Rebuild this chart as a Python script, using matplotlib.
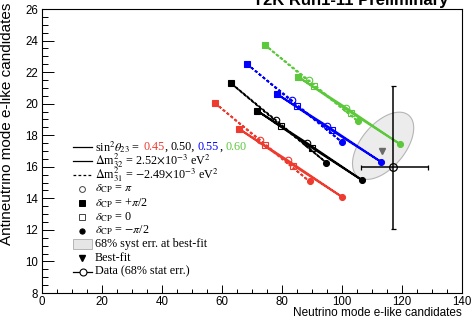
import numpy as np
import matplotlib
matplotlib.use('Agg')
import matplotlib.pyplot as plt
from matplotlib.lines import Line2D
from matplotlib.patches import Rectangle, Polygon

plt.rcParams['mathtext.fontset'] = 'stix'

# ---------------- data ----------------
sin2_values = ['0.45', '0.50', '0.55', '0.60']
sin2_colors = ['#ee3b2f', '#000000', '#0000ff', '#5cc83c']
# delta_CP order: -pi/2, 0, +pi/2, pi
delta_labels = ['-pi/2', '0', '+pi/2', 'pi']

# Normal ordering (dm32 = 2.52e-3), solid
no_nu = [[100.1, 83.8, 65.7, 82.0],
         [106.6, 90.1, 71.8, 88.3],
         [113.1, 96.6, 78.4, 94.9],
         [119.3, 103.1, 85.2, 101.4]]
no_nubar = [[14.08, 16.08, 18.40, 16.40],
            [15.16, 17.19, 19.54, 17.51],
            [16.30, 18.30, 20.60, 18.60],
            [17.44, 19.42, 21.72, 19.74]]
# Inverted ordering (dm31 = -2.49e-3), dashed
io_nu = [[89.2, 74.3, 57.7, 72.6],
         [94.7, 79.7, 63.0, 78.0],
         [100.0, 85.1, 68.4, 83.3],
         [105.2, 90.6, 74.3, 88.9]]
io_nubar = [[15.07, 17.38, 20.03, 17.72],
            [16.27, 18.61, 21.29, 18.95],
            [17.56, 19.85, 22.50, 20.21],
            [18.91, 21.13, 23.72, 21.49]]

best_fit = (113.2, 17.0)
data_point = (117.0, 16.0)
data_xerr = (10.8, 11.8)   # lower, upper
data_yerr = (3.95, 5.1)    # lower, upper
# 68% systematic contour at best fit
syst_center = (113.7, 17.33)
syst_sigma = (10.2, 2.13)
syst_rho = 0.53

# ---------------- figure ----------------
W, H = 473, 320
fig = plt.figure(figsize=(W / 100, H / 100), dpi=100)
ax = fig.add_axes([42 / W, 27 / H, 420 / W, 284 / H])
ax.set_xlim(0, 140)
ax.set_ylim(8, 26)

# systematic ellipse
t = np.linspace(0, 2 * np.pi, 300)
ex = syst_center[0] + syst_sigma[0] * np.cos(t)
ey = syst_center[1] + syst_sigma[1] * (syst_rho * np.cos(t) + np.sqrt(1 - syst_rho ** 2) * np.sin(t))
ax.add_patch(Polygon(np.column_stack([ex, ey]), closed=True, facecolor='#ececec',
                     edgecolor='#b5b5b5', lw=0.8, zorder=1))

loop = [2, 3, 0, 1, 2]
markers = [dict(marker='o', fill=True), dict(marker='s', fill=False),
           dict(marker='s', fill=True), dict(marker='o', fill=False)]


def draw_set(xs, ys, ls, dashes=None):
    for xi, yi, c in zip(xs, ys, sin2_colors):
        lx = [xi[k] for k in loop]
        ly = [yi[k] for k in loop]
        ln, = ax.plot(lx, ly, color=c, lw=1.4 if ls == '-' else 1.3, ls=ls, zorder=3)
        if dashes is not None:
            ln.set_dashes(dashes)
        for k, m in enumerate(markers):
            ax.plot([xi[k]], [yi[k]], marker=m['marker'], ms=4.3 if m['fill'] else 4.7,
                    mfc=c if m['fill'] else 'none', mec=c, mew=0.8, ls='none', zorder=4)


draw_set(io_nu, io_nubar, '--', dashes=(1.6, 1.2))
draw_set(no_nu, no_nubar, '-')

ax.plot([best_fit[0]], [best_fit[1]], marker='v', ms=4.5, color='#6a6a6a', ls='none', zorder=5)

ax.errorbar([data_point[0]], [data_point[1]],
            xerr=[[data_xerr[0]], [data_xerr[1]]], yerr=[[data_yerr[0]], [data_yerr[1]]],
            fmt='o', ms=5.5, mfc='none', mec='black', mew=0.9, ecolor='black',
            elinewidth=1.1, capsize=1.8, capthick=1.0, zorder=6)

# ticks
ax.set_xticks(np.arange(0, 141, 20))
ax.set_xticks(np.arange(0, 141, 5), minor=True)
ax.set_yticks(np.arange(8, 26.1, 2))
ax.set_yticks(np.arange(8, 26.1, 0.5), minor=True)
ax.tick_params(axis='x', which='major', direction='in', length=6, width=0.7, pad=2.5,
               labelsize=8.3, top=False)
ax.tick_params(axis='x', which='minor', direction='in', length=3, width=0.7, top=False)
ax.tick_params(axis='y', which='major', direction='in', length=8.5, width=0.7, pad=3,
               labelsize=8.3, right=False)
ax.tick_params(axis='y', which='minor', direction='in', length=4.3, width=0.7, right=False)
for lab in ax.get_xticklabels() + ax.get_yticklabels():
    lab.set_fontfamily('Liberation Sans')
for sp in ax.spines.values():
    sp.set_linewidth(0.8)

ax.set_xlabel('Neutrino mode e-like candidates', fontsize=8.5, fontfamily='Liberation Sans',
              loc='right')
ax.xaxis.set_label_coords(1.0, -0.05)
ax.xaxis.label.set_va('top')
ax.set_ylabel('Antineutrino mode e-like candidates', fontsize=11,
              fontfamily='Liberation Sans', loc='top')
ax.yaxis.set_label_coords(-0.066, 1.023)

fig.text(448 / W, 1 - 5.5 / H, 'T2K Run1-11 Preliminary', fontsize=12, fontweight='bold',
         fontfamily='Liberation Sans', ha='right', va='baseline')

# ---------------- legend ----------------
def fx(px):
    return px / W


def fy(py):
    return 1 - py / H


rows = [147, 161, 174.5, 189, 203, 217, 230.5, 244, 258, 271.5]
lfs = 8.7
serif = 'Liberation Serif'
x_line0, x_line1, x_mark, x_text = 73, 92, 82, 95

renderer = fig.canvas.get_renderer()


def seq_text(px, py, parts):
    x = fx(px)
    for s, c, gap in parts:
        tt = fig.text(x, fy(py), s, color=c, fontsize=lfs, fontfamily=serif, va='center')
        bb = tt.get_window_extent(renderer)
        x = (bb.x1 + gap) / fig.bbox.width


sp = lfs * 0.25 * 100 / 72
# row 1
fig.add_artist(Line2D([fx(x_line0), fx(x_line1)], [fy(rows[0])] * 2, color='k', lw=0.9))
seq_text(x_text, rows[0], [(r'sin$^{2}\theta_{23}$ =', 'k', sp), ('0.45', sin2_colors[0], 0),
                           (',', 'k', sp), ('0.50,', 'k', sp), ('0.55', sin2_colors[2], 0),
                           (',', 'k', sp), ('0.60', sin2_colors[3], 0)])
# row 2
fig.add_artist(Line2D([fx(x_line0), fx(x_line1)], [fy(rows[1])] * 2, color='k', lw=0.9))
fig.text(fx(x_text), fy(rows[1]), r'$\Delta$m$^{2}_{32}$ = 2.52$\times$10$^{-3}$ eV$^{2}$',
         fontsize=lfs, fontfamily=serif, va='center')
# row 3
l3 = Line2D([fx(x_line0), fx(x_line1)], [fy(rows[2])] * 2, color='k', lw=0.9, ls='--')
l3.set_dashes((2.2, 1.8))
fig.add_artist(l3)
fig.text(fx(x_text), fy(rows[2]), r'$\Delta$m$^{2}_{31}$ = $-$2.49$\times$10$^{-3}$ eV$^{2}$',
         fontsize=lfs, fontfamily=serif, va='center')
# delta rows
dl = [(r'$\delta_{\rm CP}$ = $\pi$', 'o', False),
      (r'$\delta_{\rm CP}$ = +$\pi$/2', 's', True),
      (r'$\delta_{\rm CP}$ = 0', 's', False),
      (r'$\delta_{\rm CP}$ = $-\pi$/2', 'o', True)]
for i, (txt, mk, fill) in enumerate(dl):
    py = rows[3 + i]
    fig.add_artist(Line2D([fx(x_mark)], [fy(py)], marker=mk, ms=3.8 if fill else 4.2,
                          mfc='k' if fill else 'none', mec='k' if fill else '#444444',
                          mew=0.7, ls='none'))
    fig.text(fx(x_text), fy(py), txt, fontsize=lfs, fontfamily=serif, va='center')
# syst box
fig.add_artist(Rectangle((fx(73), fy(249)), (92 - 73) / W, 10 / H, transform=fig.transFigure,
                         facecolor='#e6e6e6', edgecolor='#b5b5b5', lw=0.7))
fig.text(fx(x_text), fy(rows[7]), '68% syst err. at best-fit', fontsize=lfs, fontfamily=serif,
         va='center')
# best fit
fig.add_artist(Line2D([fx(x_mark)], [fy(rows[8])], marker='v', ms=4.0, color='k', ls='none'))
fig.text(fx(x_text), fy(rows[8]), 'Best-fit', fontsize=lfs, fontfamily=serif, va='center')
# data
fig.add_artist(Line2D([fx(x_line0), fx(x_line1)], [fy(rows[9])] * 2, color='k', lw=0.9))
fig.add_artist(Line2D([fx(83)], [fy(rows[9])], marker='o', ms=5, mfc='white', mec='k', mew=0.8,
                      ls='none'))
fig.text(fx(x_text), fy(rows[9]), 'Data (68% stat err.)', fontsize=lfs, fontfamily=serif,
         va='center')

fig.savefig('out.png', dpi=100)
